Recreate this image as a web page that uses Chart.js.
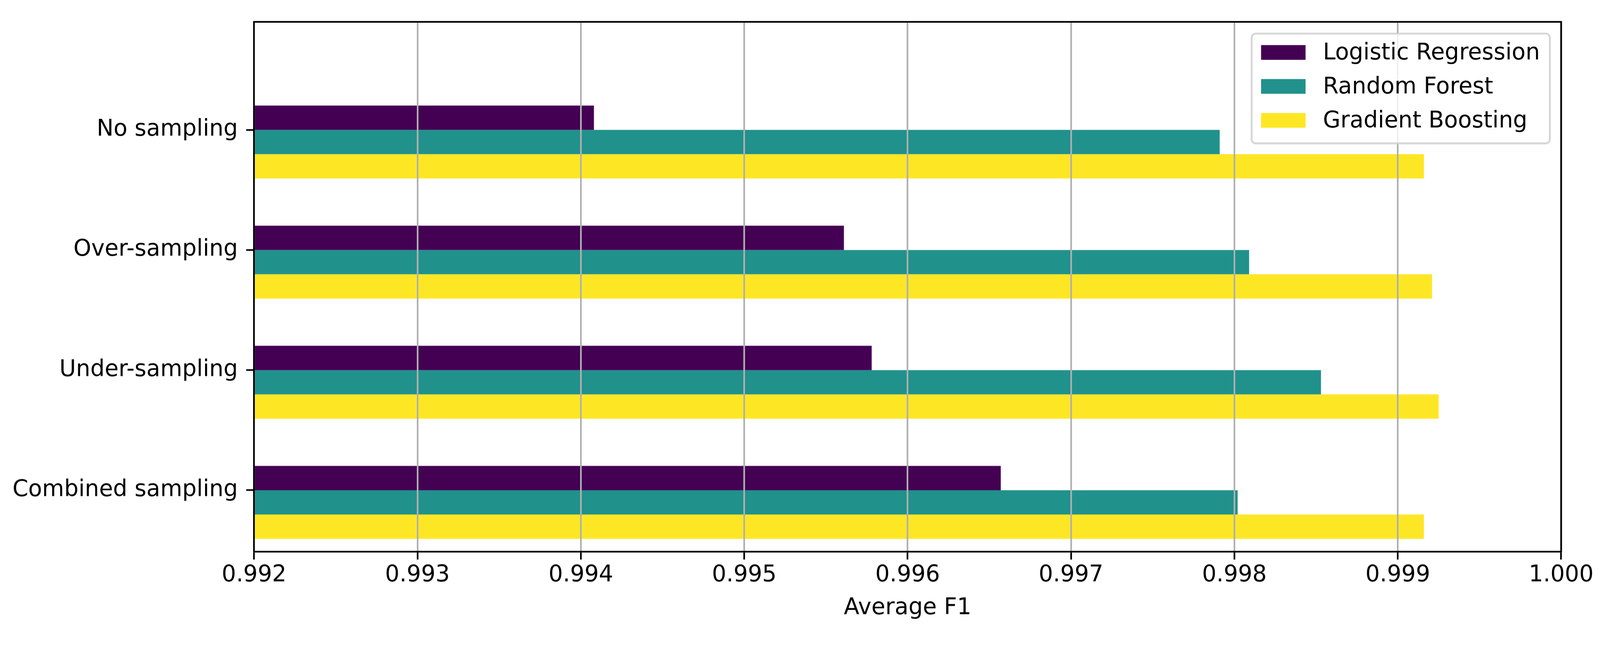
<!DOCTYPE html>
<html>
<head>
<meta charset="utf-8">
<style>
html,body{margin:0;padding:0;background:#ffffff;overflow:hidden;}
#wrap{width:4244px;height:1676px;position:absolute;left:0;top:0;transform-origin:0 0;}
#c{display:block;}
</style>
<script src="https://cdn.jsdelivr.net/npm/chart.js@4.4.1/dist/chart.umd.min.js"></script>
</head>
<body>
<div id="wrap"><canvas id="c" width="4244" height="1676"></canvas></div>
<script>
// ---- data ----
const categories = ['No sampling', 'Over-sampling', 'Under-sampling', 'Combined sampling'];
const seriesNames = ['Logistic Regression', 'Random Forest', 'Gradient Boosting'];
const logisticRegression = [0.99408, 0.99561, 0.99578, 0.99657];
const randomForest       = [0.99791, 0.99809, 0.99853, 0.99802];
const gradientBoosting   = [0.99916, 0.99921, 0.99925, 0.99916];
const xTickValues = [0.992, 0.993, 0.994, 0.995, 0.996, 0.997, 0.998, 0.999, 1.000];
const xAxisTitle = 'Average F1';

// ---- styles ----
const seriesColors = ['#440154', '#21918c', '#fde725'];
const FONT = {family: 'DejaVu Sans', size: 60, lineHeight: 1.2};
const SPINE = 4.4;
const W = 4244, H = 1676;
const GROUP_FRACTION = 0.607;                       // share of a category band filled by its bars
const TICK_SHIFT = GROUP_FRACTION / 3 / 2;          // tick sits at the boundary of 1st and 2nd bar

// fit the 4244x1676 drawing to the actual viewport
const vw = document.documentElement.clientWidth || window.innerWidth;
const vh = document.documentElement.clientHeight || window.innerHeight;
const k = Math.min(vw / W, vh / H);
document.getElementById('wrap').style.transform = 'scale(' + k + ')';
const dpr = (window.devicePixelRatio || 1) * k;

const seriesValues = [logisticRegression, randomForest, gradientBoosting];

const framePlugin = {
  id: 'frameAndLegend',
  afterDraw(chart) {
    const ctx = chart.ctx;
    const a = chart.chartArea;
    ctx.save();
    // top and right spines
    ctx.strokeStyle = '#000';
    ctx.lineWidth = SPINE;
    ctx.lineCap = 'square';
    ctx.beginPath();
    ctx.moveTo(a.left, a.top);
    ctx.lineTo(a.right, a.top);
    ctx.lineTo(a.right, a.bottom);
    ctx.stroke();

    // legend (matplotlib style, upper right inside axes)
    const fw = 791, fh = 291;
    const fx = a.right - 30 - fw;
    const fy = a.top + 31;
    const r = 11;
    ctx.beginPath();
    ctx.moveTo(fx + r, fy);
    ctx.lineTo(fx + fw - r, fy);
    ctx.arcTo(fx + fw, fy, fx + fw, fy + r, r);
    ctx.lineTo(fx + fw, fy + fh - r);
    ctx.arcTo(fx + fw, fy + fh, fx + fw - r, fy + fh, r);
    ctx.lineTo(fx + r, fy + fh);
    ctx.arcTo(fx, fy + fh, fx, fy + fh - r, r);
    ctx.lineTo(fx, fy + r);
    ctx.arcTo(fx, fy, fx + r, fy, r);
    ctx.closePath();
    ctx.fillStyle = 'rgba(255,255,255,0.8)';
    ctx.fill();
    ctx.strokeStyle = 'rgba(204,204,204,0.8)';
    ctx.lineWidth = 5;
    ctx.stroke();

    ctx.font = FONT.size + 'px "' + FONT.family + '"';
    ctx.textAlign = 'left';
    ctx.textBaseline = 'alphabetic';
    chart.data.datasets.forEach((ds, i) => {
      const cy = fy + 50 + 90 * i;
      ctx.fillStyle = ds.backgroundColor;
      ctx.fillRect(fx + 25, cy - 19.5, 118, 39);
      ctx.fillStyle = '#000';
      ctx.fillText(ds.label, fx + 189, cy + 19);
    });
    ctx.restore();
  }
};

new Chart(document.getElementById('c'), {
  type: 'bar',
  data: {
    datasets: seriesNames.map((name, j) => ({
      label: name,
      data: seriesValues[j].map((v, i) => ({x: v, y: i})),
      backgroundColor: seriesColors[j],
      borderWidth: 0,
      categoryPercentage: GROUP_FRACTION,
      barPercentage: 1.0
    }))
  },
  options: {
    indexAxis: 'y',
    responsive: false,
    devicePixelRatio: dpr,
    animation: false,
    layout: {padding: {top: 46, right: 103, bottom: 0, left: 0}},
    plugins: {legend: {display: false}, tooltip: {enabled: false}},
    scales: {
      x: {
        type: 'linear',
        position: 'bottom',
        min: 0.992,
        max: 1.0,
        offset: false,
        afterBuildTicks: s => { s.ticks = xTickValues.map(v => ({value: v})); },
        afterFit: s => { s.height = 214; },
        ticks: {
          callback: v => Number(v).toFixed(3),
          font: FONT, color: '#000', padding: 6, maxRotation: 0, autoSkip: false
        },
        grid: {offset: false, color: '#b0b0b0', lineWidth: SPINE, z: 1, tickLength: 21, tickWidth: SPINE, tickColor: '#000'},
        border: {display: true, color: '#000', width: SPINE, z: 2},
        title: {display: true, text: xAxisTitle, font: FONT, color: '#000', padding: {top: 0, bottom: 28}}
      },
      y: {
        type: 'linear',
        position: 'left',
        reverse: true,
        min: -1.0,
        max: 3.41,
        offset: false,
        afterBuildTicks: s => { s.ticks = categories.map((_, i) => ({value: i - TICK_SHIFT})); },
        afterFit: s => { s.width = 674; },
        ticks: {
          callback: v => categories[Math.round(v + TICK_SHIFT)],
          font: FONT, color: '#000', padding: 22, autoSkip: false
        },
        grid: {offset: false, drawOnChartArea: false, drawTicks: true, tickLength: 21, tickWidth: SPINE, tickColor: '#000'},
        border: {display: true, color: '#000', width: SPINE, z: 2}
      }
    }
  },
  plugins: [framePlugin]
});
</script>
</body>
</html>
